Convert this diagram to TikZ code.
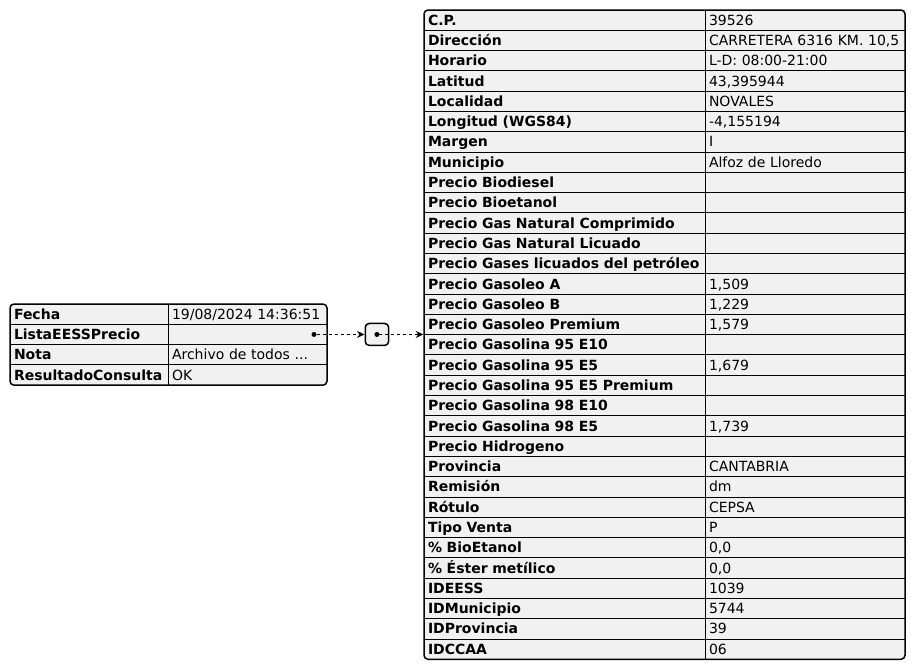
\documentclass[tikz,border=0pt]{standalone}
\usepackage{fontspec}
\setmainfont{DejaVu Sans}
\usepackage{xcolor}
\usepackage{tikz}
\usetikzlibrary{arrows.meta,positioning,fit,backgrounds}

\definecolor{cellgray}{HTML}{F1F1F1}

\tikzset{
  cell/.style={inner xsep=4pt, inner ysep=0pt, outer sep=0pt, minimum height=20.29pt,
    text height=11.5pt, text depth=1.3pt, align=left, font=\fontsize{14}{16}\selectfont},
  keycell/.style={cell, text width=#1, font=\fontsize{14}{16}\selectfont\bfseries},
  valcell/.style={cell, text width=#1},
  grid/.style={line width=0.9pt},
  frame/.style={draw, line width=1.5pt, rounded corners=4pt, fill=cellgray, inner sep=0pt},
  dot/.style={circle, fill=black, minimum size=5pt, inner sep=0pt, outer sep=0pt},
  link/.style={line width=1pt, dash pattern=on 3pt off 3pt, -{Stealth[length=7.5pt, width=7pt, inset=2.5pt]}}
}

\begin{document}
\begin{tikzpicture}[x=1pt, y=-1pt, node distance=0pt]
            \useasboundingbox (0,0) rectangle (916,670);
            % left table
            \node [keycell=150pt, anchor=north west] (a1) at (10,304) {Fecha};
            \node [valcell=151pt, right = of a1] (b1) {19/08/2024 14:36:51};
            \node [keycell=150pt, below = of a1] (a2) {ListaEESSPrecio};
            \node [valcell=151pt, right = of a2] (b2) {};
            \node [keycell=150pt, below = of a2] (a3) {Nota};
            \node [valcell=151pt, right = of a3] (b3) {Archivo de todos ...};
            \node [keycell=150pt, below = of a3] (a4) {ResultadoConsulta};
            \node [valcell=151pt, right = of a4] (b4) {OK};
            % right table
            \node [keycell=273pt, anchor=north west] (k1) at (424,10) {C.P.};
            \node [valcell=192pt, right = of k1] (v1) {39526};
            \node [keycell=273pt, below = of k1] (k2) {Dirección};
            \node [valcell=192pt, right = of k2] (v2) {CARRETERA 6316 KM. 10,5};
            \node [keycell=273pt, below = of k2] (k3) {Horario};
            \node [valcell=192pt, right = of k3] (v3) {L-D: 08:00-21:00};
            \node [keycell=273pt, below = of k3] (k4) {Latitud};
            \node [valcell=192pt, right = of k4] (v4) {43,395944};
            \node [keycell=273pt, below = of k4] (k5) {Localidad};
            \node [valcell=192pt, right = of k5] (v5) {NOVALES};
            \node [keycell=273pt, below = of k5] (k6) {Longitud (WGS84)};
            \node [valcell=192pt, right = of k6] (v6) {-4,155194};
            \node [keycell=273pt, below = of k6] (k7) {Margen};
            \node [valcell=192pt, right = of k7] (v7) {I};
            \node [keycell=273pt, below = of k7] (k8) {Municipio};
            \node [valcell=192pt, right = of k8] (v8) {Alfoz de Lloredo};
            \node [keycell=273pt, below = of k8] (k9) {Precio Biodiesel};
            \node [valcell=192pt, right = of k9] (v9) {};
            \node [keycell=273pt, below = of k9] (k10) {Precio Bioetanol};
            \node [valcell=192pt, right = of k10] (v10) {};
            \node [keycell=273pt, below = of k10] (k11) {Precio Gas Natural Comprimido};
            \node [valcell=192pt, right = of k11] (v11) {};
            \node [keycell=273pt, below = of k11] (k12) {Precio Gas Natural Licuado};
            \node [valcell=192pt, right = of k12] (v12) {};
            \node [keycell=273pt, below = of k12] (k13) {Precio Gases licuados del petróleo};
            \node [valcell=192pt, right = of k13] (v13) {};
            \node [keycell=273pt, below = of k13] (k14) {Precio Gasoleo A};
            \node [valcell=192pt, right = of k14] (v14) {1,509};
            \node [keycell=273pt, below = of k14] (k15) {Precio Gasoleo B};
            \node [valcell=192pt, right = of k15] (v15) {1,229};
            \node [keycell=273pt, below = of k15] (k16) {Precio Gasoleo Premium};
            \node [valcell=192pt, right = of k16] (v16) {1,579};
            \node [keycell=273pt, below = of k16] (k17) {Precio Gasolina 95 E10};
            \node [valcell=192pt, right = of k17] (v17) {};
            \node [keycell=273pt, below = of k17] (k18) {Precio Gasolina 95 E5};
            \node [valcell=192pt, right = of k18] (v18) {1,679};
            \node [keycell=273pt, below = of k18] (k19) {Precio Gasolina 95 E5 Premium};
            \node [valcell=192pt, right = of k19] (v19) {};
            \node [keycell=273pt, below = of k19] (k20) {Precio Gasolina 98 E10};
            \node [valcell=192pt, right = of k20] (v20) {};
            \node [keycell=273pt, below = of k20] (k21) {Precio Gasolina 98 E5};
            \node [valcell=192pt, right = of k21] (v21) {1,739};
            \node [keycell=273pt, below = of k21] (k22) {Precio Hidrogeno};
            \node [valcell=192pt, right = of k22] (v22) {};
            \node [keycell=273pt, below = of k22] (k23) {Provincia};
            \node [valcell=192pt, right = of k23] (v23) {CANTABRIA};
            \node [keycell=273pt, below = of k23] (k24) {Remisión};
            \node [valcell=192pt, right = of k24] (v24) {dm};
            \node [keycell=273pt, below = of k24] (k25) {Rótulo};
            \node [valcell=192pt, right = of k25] (v25) {CEPSA};
            \node [keycell=273pt, below = of k25] (k26) {Tipo Venta};
            \node [valcell=192pt, right = of k26] (v26) {P};
            \node [keycell=273pt, below = of k26] (k27) {\% BioEtanol};
            \node [valcell=192pt, right = of k27] (v27) {0,0};
            \node [keycell=273pt, below = of k27] (k28) {\% Éster metílico};
            \node [valcell=192pt, right = of k28] (v28) {0,0};
            \node [keycell=273pt, below = of k28] (k29) {IDEESS};
            \node [valcell=192pt, right = of k29] (v29) {1039};
            \node [keycell=273pt, below = of k29] (k30) {IDMunicipio};
            \node [valcell=192pt, right = of k30] (v30) {5744};
            \node [keycell=273pt, below = of k30] (k31) {IDProvincia};
            \node [valcell=192pt, right = of k31] (v31) {39};
            \node [keycell=273pt, below = of k31] (k32) {IDCCAA};
            \node [valcell=192pt, right = of k32] (v32) {06};
            % frames and grid lines
            \begin{scope}[on background layer]
            \node [frame, fit=(a1)(b4)] (left) {};
            \node [frame, fit=(k1)(v32)] (right) {};
            \end{scope}
            \foreach \i in {1,...,3} \draw [grid] (a\i.south west) -- (b\i.south east);
            \draw [grid] (a1.north east) -- (a4.south east);
            \foreach \i in {1,...,31} \draw [grid] (k\i.south west) -- (v\i.south east);
            \draw [grid] (k1.north east) -- (k32.south east);
            % array node and links
            \node [dot, left = 10.5pt of b2.east] (d1) {};
            \node [frame, minimum width=23.4pt, minimum height=22pt, right = 48pt of d1] (arr) {};
            \node [dot] (d2) at (arr.center) {};
            \draw [link] (d1) -- (arr);
            \draw [link] (d2) -- (d2 -| right.west);
\end{tikzpicture}
\end{document}
